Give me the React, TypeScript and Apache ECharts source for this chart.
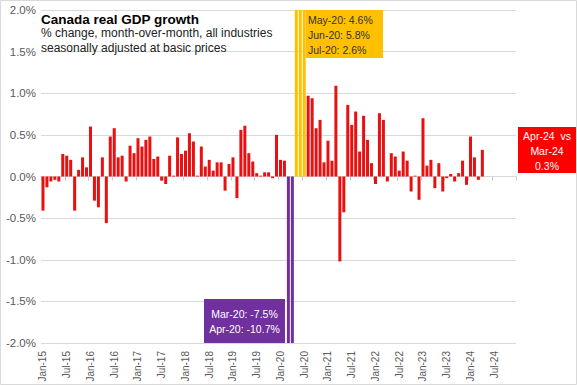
import React, { useEffect, useRef } from "react";
import * as echarts from "echarts";

const monthNames = ["Jan", "Feb", "Mar", "Apr", "May", "Jun", "Jul", "Aug", "Sep", "Oct", "Nov", "Dec"];
const years = ["15", "16", "17", "18", "19", "20", "21", "22", "23", "24"];
const categories: string[] = [];
years.forEach((y) => monthNames.forEach((m) => categories.push(`${m}-${y}`)));

// % change month-over-month, Jan-15 .. Apr-24
const gdpGrowth = [
  -0.41, -0.13, -0.06, -0.04, -0.06, 0.27, 0.25, 0.2, -0.41, 0.08,
  0.23, 0.11, 0.6, -0.29, -0.37, 0.23, -0.56, 0.48, 0.58, 0.23,
  0.25, -0.06, 0.37, 0.28, 0.46, 0.36, 0.44, 0.48, 0.21, 0.24,
  -0.05, -0.09, 0.25, 0.01, 0.47, 0.27, 0.31, 0.52, 0.42, 0.01,
  0.36, 0.12, 0.2, 0.07, 0.17, 0.17, -0.17, 0.15, 0.23, -0.26,
  0.56, 0.61, 0.28, 0.18, 0.04, 0.01, 0.05, 0.05, -0.02, 0.5,
  0.2, 0.19, -7.5, -10.7, 4.6, 5.8, 2.6, 0.97, 0.94, 0.58,
  0.68, 0.17, 0.43, 0.19, 1.09, -1.02, -0.43, 0.86, 0.62, 0.78,
  0.3, 0.73, 0.44, 0.16, -0.09, 0.76, 0.68, -0.06, 0.28, 0.24,
  0.07, 0.3, 0.19, -0.18, 0.01, -0.28, 0.7, 0.13, 0.2, -0.14,
  0.16, -0.18, -0.02, 0.03, -0.06, 0.04, 0.19, -0.1, 0.48, 0.23, -0.04, 0.32,
];

const purpleMonths = ["Mar-20", "Apr-20"];
const goldMonths = ["May-20", "Jun-20", "Jul-20"];

const RED = "#E81010";
const PURPLE = "#7030A0";
const GOLD = "#FFC000";
const FONT = "Liberation Sans, Arial, sans-serif";
const NARROW = "Liberation Sans Narrow, Arial Narrow, Liberation Sans, sans-serif";

export default function App() {
  const ref = useRef<HTMLDivElement>(null);
  useEffect(() => {
    if (!ref.current) return;
    const chart = echarts.init(ref.current, null, { renderer: "svg" });
    const barData = gdpGrowth.map((v, i) => {
      const c = categories[i];
      const color = purpleMonths.includes(c) ? PURPLE : goldMonths.includes(c) ? GOLD : RED;
      return { value: v, itemStyle: { color } };
    });
    const txt = (text: string, x: number, y: number, opts: any = {}) => ({
      type: "text",
      x,
      y,
      z: 100,
      style: {
        text,
        fill: opts.fill || "#000",
        fontSize: opts.fontSize || 11,
        fontWeight: opts.fontWeight || "normal",
        fontFamily: FONT,
        textAlign: opts.align || "left",
        align: opts.align || "left",
        textVerticalAlign: "middle",
        verticalAlign: "middle",
      },
    });
    chart.setOption({
      animation: false,
      textStyle: { fontFamily: FONT },
      grid: { left: 41, right: 61, top: 10, bottom: 42, containLabel: false },
      xAxis: [
        {
          type: "category",
          data: categories,
          boundaryGap: true,
          axisLine: { onZero: true, lineStyle: { color: "#d9d9d9", width: 1 } },
          axisTick: { show: true, interval: 5, length: 4, lineStyle: { color: "#c8c8c8" } },
          axisLabel: { show: false },
          splitLine: { show: false },
        },
        {
          type: "category",
          data: categories,
          position: "bottom",
          boundaryGap: true,
          axisLine: { show: false, onZero: false },
          axisTick: { show: false },
          axisLabel: {
            interval: 5,
            rotate: 90,
            margin: 8,
            fontSize: 10,
            color: "#595959",
            fontFamily: NARROW,
          },
        },
      ],
      yAxis: {
        type: "value",
        min: -2,
        max: 2,
        interval: 0.5,
        axisLine: { show: false },
        axisTick: { show: false },
        splitLine: { lineStyle: { color: "#d9d9d9", width: 1 } },
        axisLabel: {
          formatter: (v: number) => v.toFixed(1) + "%",
          fontSize: 11.5,
          color: "#595959",
          margin: 5,
          fontFamily: FONT,
        },
      },
      series: [
        {
          type: "bar",
          xAxisIndex: 0,
          data: barData,
          barWidth: "76%",
          clip: true,
        },
      ],
      graphic: [
        {
          type: "rect",
          shape: { x: 0.5, y: 0.5, width: 576, height: 384 },
          style: { fill: "none", stroke: "#d9d9d9", lineWidth: 1 },
          z: 0,
        },
        txt("Canada real GDP growth", 41, 19, { fontSize: 13.5, fontWeight: "bold" }),
        txt("% change, month-over-month, all industries", 41, 33, { fontSize: 12, fill: "#222" }),
        txt("seasonally adjusted at basic prices", 41, 48, { fontSize: 12, fill: "#222" }),
        {
          type: "rect",
          z: 90,
          shape: { x: 306, y: 10, width: 77, height: 48 },
          style: { fill: GOLD },
        },
        txt("May-20: 4.6%", 308, 20, { fontSize: 10.5, fill: "#333" }),
        txt("Jun-20: 5.8%", 308, 35, { fontSize: 10.5, fill: "#333" }),
        txt("Jul-20: 2.6%", 308, 50, { fontSize: 10.5, fill: "#333" }),
        {
          type: "rect",
          z: 90,
          shape: { x: 204, y: 299, width: 81, height: 44 },
          style: { fill: PURPLE },
        },
        txt("Mar-20: -7.5%", 244.5, 314, { fontSize: 10.5, fill: "#fff", align: "center" }),
        txt("Apr-20: -10.7%", 244.5, 329, { fontSize: 10.5, fill: "#fff", align: "center" }),
        {
          type: "rect",
          z: 90,
          shape: { x: 518, y: 127, width: 58, height: 46 },
          style: { fill: "#FF0000" },
        },
        txt("Apr-24  vs", 547, 136, { fontSize: 10.5, fill: "#fff", align: "center" }),
        txt("Mar-24", 547, 151, { fontSize: 10.5, fill: "#fff", align: "center" }),
        txt("0.3%", 547, 166, { fontSize: 10.5, fill: "#fff", align: "center" }),
      ],
    });
    return () => chart.dispose();
  }, []);
  return (
    <div
      ref={ref}
      style={{ position: "fixed", left: 0, top: 0, width: 577, height: 385, background: "#fff" }}
    />
  );
}
